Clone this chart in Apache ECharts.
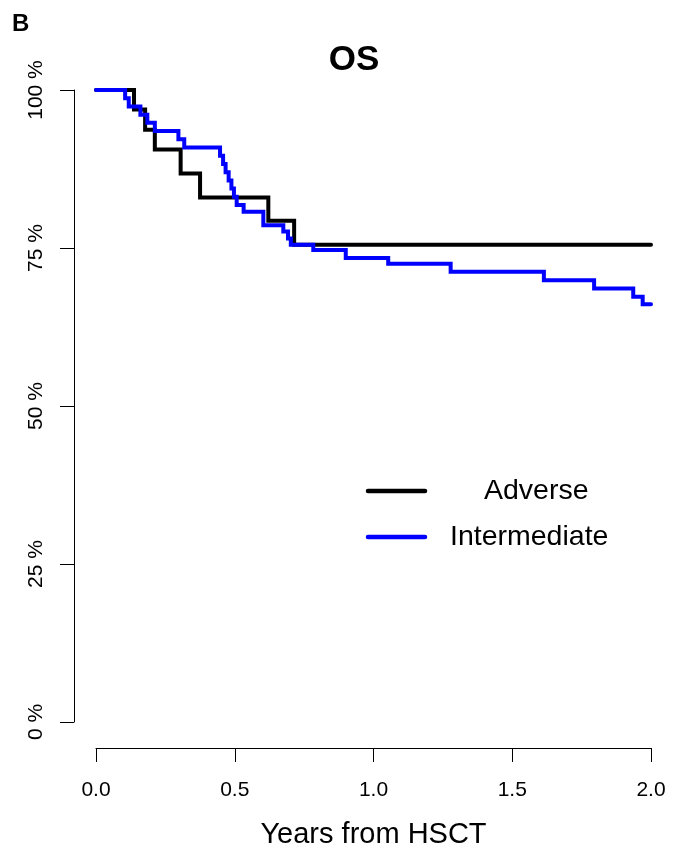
<!DOCTYPE html>
<html>
<head>
<meta charset="utf-8">
<script src="https://cdn.jsdelivr.net/npm/echarts@6/dist/echarts.min.js"></script>
<style>
  html, body { margin: 0; padding: 0; background: #fff; }
  #chart { width: 681px; height: 852px; }
</style>
</head>
<body>
<div id="chart"></div>
<script>
// Kaplan-Meier overall survival after HSCT, by risk group
const adverseTime = [0, 0.137, 0.177, 0.212, 0.305, 0.375, 0.621, 0.714, 2.0];
const adverseSurv = [100, 96.9, 93.7, 90.6, 86.8, 83.0, 79.3, 75.5, 75.5];

const intermediateTime = [0, 0.105, 0.118, 0.160, 0.185, 0.212, 0.297, 0.318, 0.447, 0.458,
  0.467, 0.478, 0.488, 0.497, 0.507, 0.532, 0.603, 0.675, 0.692, 0.702, 0.783, 0.900,
  1.053, 1.278, 1.614, 1.795, 1.936, 1.970, 2.0];
const intermediateSurv = [100, 98.7, 97.4, 96.1, 94.8, 93.5, 92.2, 90.9, 89.6, 88.3,
  87.0, 85.7, 84.4, 83.1, 81.8, 80.75, 78.6, 77.6, 76.5, 75.5, 74.7, 73.4,
  72.5, 71.25, 69.9, 68.6, 67.3, 66.1, 66.1];

const groupNames = ['Adverse', 'Intermediate'];
const groupColors = ['#000000', '#0000ff'];
const xTicks = [0, 0.5, 1.0, 1.5, 2.0];
const yTicks = [0, 25, 50, 75, 100];

const FONT = '"Liberation Sans", Arial, Helvetica, sans-serif';

function pairs(t, s) { return t.map((v, i) => [v, s[i]]); }

const chart = echarts.init(document.getElementById('chart'), null, { renderer: 'canvas' });

const lineOpts = (name, color, data, z) => ({
  name, type: 'line', step: 'end', data,
  showSymbol: false, clip: false, z,
  lineStyle: { color, width: 4, cap: 'round', join: 'miter' },
  emphasis: { disabled: true }
});

chart.setOption({
  animation: false,
  backgroundColor: '#ffffff',
  grid: { left: 96, right: 30, top: 90, bottom: 130, containLabel: false, outerBoundsMode: 'none' },
  xAxis: {
    type: 'value', min: xTicks[0], max: xTicks[xTicks.length - 1], interval: 0.5,
    offset: 26,
    name: 'Years from HSCT', nameLocation: 'middle', nameGap: 72,
    nameTextStyle: { fontFamily: FONT, fontSize: 29, color: '#000' },
    axisLine: { show: true, onZero: false, lineStyle: { color: '#000', width: 1 } },
    axisTick: { show: true, length: 14, lineStyle: { color: '#000', width: 1 } },
    axisLabel: { fontFamily: FONT, fontSize: 21, color: '#000', margin: 32,
      formatter: v => v.toFixed(1) },
    splitLine: { show: false }
  },
  yAxis: {
    type: 'value', min: yTicks[0], max: yTicks[yTicks.length - 1], interval: 25,
    offset: 22,
    axisLine: { show: true, onZero: false, lineStyle: { color: '#000', width: 1 } },
    axisTick: { show: true, length: 14, lineStyle: { color: '#000', width: 1 } },
    axisLabel: { fontFamily: FONT, fontSize: 21, color: '#000', margin: 27, rotate: 90,
      formatter: v => v + ' %' },
    splitLine: { show: false }
  },
  series: [
    lineOpts(groupNames[0], groupColors[0], pairs(adverseTime, adverseSurv), 2),
    lineOpts(groupNames[1], groupColors[1], pairs(intermediateTime, intermediateSurv), 3)
  ],
  graphic: [
    { type: 'text', left: 12, top: 12,
      style: { text: 'B', fontFamily: FONT, fontSize: 24, fontWeight: 'bold', fill: '#000' } },
    { type: 'text', x: 354, y: 60,
      style: { text: 'OS', fontFamily: FONT, fontSize: 35, fontWeight: 'bold', fill: '#000',
        textAlign: 'center', textVerticalAlign: 'middle' } },
    { type: 'line', shape: { x1: 368, y1: 491, x2: 425, y2: 491 },
      style: { stroke: groupColors[0], lineWidth: 4.5, lineCap: 'round' } },
    { type: 'text', x: 484, y: 491,
      style: { text: groupNames[0], fontFamily: FONT, fontSize: 28.5, fill: '#000',
        textAlign: 'left', textVerticalAlign: 'middle' } },
    { type: 'line', shape: { x1: 368, y1: 537, x2: 425, y2: 537 },
      style: { stroke: groupColors[1], lineWidth: 4.5, lineCap: 'round' } },
    { type: 'text', x: 450, y: 537,
      style: { text: groupNames[1], fontFamily: FONT, fontSize: 28.5, fill: '#000',
        textAlign: 'left', textVerticalAlign: 'middle' } }
  ]
});
</script>
</body>
</html>
